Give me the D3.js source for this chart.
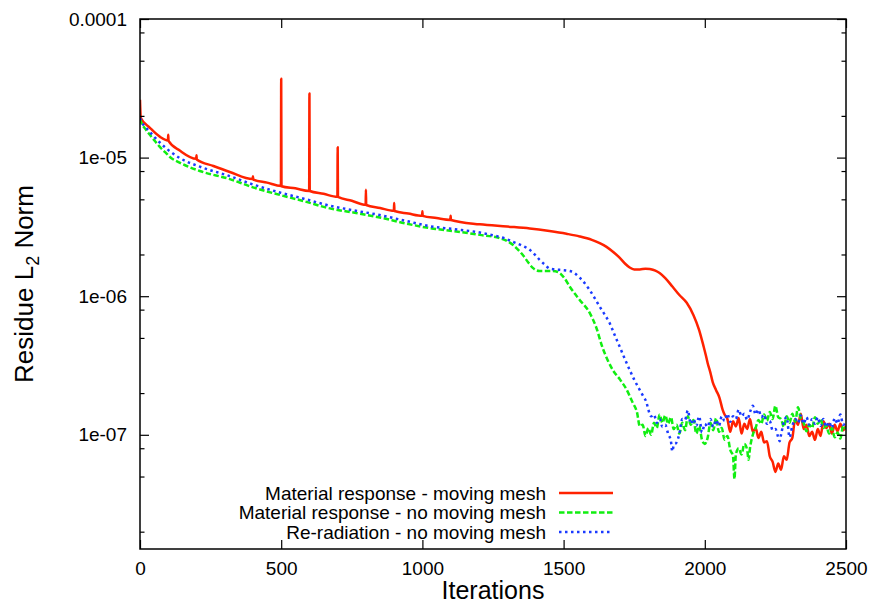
<!DOCTYPE html>
<html><head><meta charset="utf-8">
<script src="https://cdn.jsdelivr.net/npm/d3@7"></script>
<style>body{margin:0;background:#fff} text{font-family:"Liberation Sans",Arial,Helvetica,sans-serif}</style>
</head><body><svg id="c" width="872" height="606"></svg>
<script>
// ---- data ----
const xTicks = [0, 500, 1000, 1500, 2000, 2500];
const yMajorTicks = [1e-7, 1e-6, 1e-5, 1e-4];
const yTickLabels = ["1e-07", "1e-06", "1e-05", "0.0001"];
const yMinorTicks = [2e-8, 5e-8, 8e-8, 2e-7, 5e-7, 8e-7, 2e-6, 5e-6, 8e-6, 2e-5, 5e-5, 8e-5];
const seriesNames = ["Material response - moving mesh", "Material response - no moving mesh", "Re-radiation - no moving mesh"];
const xTitle = "Iterations";

const redData = [
[0,2.61e-5],[3,1.93e-5],[35,1.64e-5],[71,1.41e-5],[99,1.33e-5],[100,1.46e-5],[101,1.32e-5],[142,1.12e-5],
[199,9.8e-6],[200,1.04e-5],[201,9.7e-6],[260,8.7e-6],[318,7.88e-6],[399,7.0e-6],[400,7.35e-6],[401,6.95e-6],
[450,6.6e-6],[499,6.25e-6],[500,3.7e-5],[501,6.22e-6],[550,6.0e-6],[599,5.75e-6],[600,2.9e-5],[601,5.74e-6],
[650,5.48e-6],[699,5.21e-6],[700,1.19e-5],[701,5.2e-6],[750,4.88e-6],[799,4.56e-6],[800,5.85e-6],[801,4.55e-6],
[850,4.33e-6],[899,4.13e-6],[900,4.7e-6],[901,4.12e-6],[950,3.95e-6],[999,3.8e-6],[1000,4.1e-6],[1001,3.8e-6],
[1050,3.66e-6],[1099,3.55e-6],[1100,3.8e-6],[1101,3.55e-6],[1203,3.3e-6],[1300,3.18e-6],[1380,3.08e-6],
[1450,2.95e-6],[1510,2.82e-6],[1557,2.7e-6],[1600,2.55e-6],[1652,2.27e-6],[1680,2.05e-6],[1699,1.89e-6],
[1720,1.7e-6],[1734,1.61e-6],[1750,1.56e-6],[1770,1.56e-6],[1790,1.58e-6],[1805,1.57e-6],[1825,1.53e-6],
[1840,1.47e-6],[1860,1.35e-6],[1886,1.17e-6],[1910,1.02e-6],[1936,8.96e-7],[1960,7.3e-7],[1980,5.7e-7],
[1995,4.4e-7],[2003,3.8e-7],[2010,3.3e-7],[2020,2.8e-7],[2028,2.4e-7],[2040,2.1e-7],[2052,1.85e-7],
[2063,1.52e-7],[2070,1.4e-7],
[2080,1.30e-7],[2090,1.05e-7],[2100,1.25e-7],[2110,1.15e-7],[2120,1.32e-7],[2130,1.02e-7],[2140,1.20e-7],
[2150,1.10e-7],[2160,1.30e-7],[2170,1.05e-7],[2180,1.12e-7],[2190,0.95e-7],[2200,1.05e-7],[2210,0.88e-7],
[2220,0.90e-7],[2230,0.70e-7],[2240,0.64e-7],[2250,0.54e-7],[2260,0.62e-7],[2270,0.56e-7],[2280,0.70e-7],
[2290,0.66e-7],[2300,0.88e-7],[2310,0.95e-7],[2320,1.30e-7],[2330,1.18e-7],[2340,1.42e-7],[2350,1.10e-7],
[2360,1.18e-7],[2370,0.98e-7],[2380,1.05e-7],[2390,0.92e-7],[2400,1.10e-7],[2410,0.98e-7],[2420,1.25e-7],
[2430,1.12e-7],[2440,1.20e-7],[2450,1.02e-7],[2460,1.18e-7],[2470,1.06e-7],[2480,1.20e-7],[2490,1.08e-7],
[2500,1.16e-7]
];

const greenData = [
[0,1.9e-5],[5,1.78e-5],[20,1.6e-5],[35,1.46e-5],[55,1.3e-5],[71,1.19e-5],[90,1.09e-5],[106,1.01e-5],
[142,9.16e-6],[212,8.0e-6],[318,7.0e-6],[400,6.1e-6],[495,5.38e-6],[580,4.85e-6],[672,4.3e-6],[760,4.0e-6],
[849,3.7e-6],[940,3.35e-6],[1026,3.1e-6],[1110,2.95e-6],[1203,2.77e-6],[1274,2.62e-6],[1300,2.5e-6],
[1320,2.35e-6],[1340,2.15e-6],[1355,1.99e-6],[1375,1.75e-6],[1391,1.6e-6],[1415,1.52e-6],[1440,1.52e-6],
[1461,1.52e-6],[1486,1.47e-6],[1505,1.33e-6],[1522,1.17e-6],[1557,9.4e-7],[1592,7.6e-7],[1615,6.0e-7],
[1638,4.25e-7],[1655,3.5e-7],[1674,2.94e-7],[1700,2.5e-7],[1723,2.12e-7],[1745,1.7e-7],
[1760,1.45e-7],[1770,1.15e-7],[1780,1.18e-7],[1790,0.98e-7],[1800,1.12e-7],[1810,1.00e-7],[1820,1.22e-7],
[1830,1.12e-7],[1840,1.40e-7],[1850,1.22e-7],[1860,1.38e-7],[1870,1.20e-7],[1880,1.34e-7],[1890,1.10e-7],
[1900,1.18e-7],[1910,1.02e-7],[1920,1.22e-7],[1930,1.08e-7],[1940,1.36e-7],[1950,1.18e-7],[1960,1.28e-7],
[1970,1.02e-7],[1980,1.16e-7],[1990,0.92e-7],[2000,0.86e-7],[2010,0.95e-7],[2020,1.22e-7],[2030,1.08e-7],
[2040,1.32e-7],[2050,1.05e-7],[2060,1.12e-7],[2070,0.92e-7],[2080,0.98e-7],[2090,0.78e-7],[2100,0.70e-7],
[2105,0.48e-7],[2110,0.72e-7],[2120,0.80e-7],[2130,0.72e-7],[2140,0.86e-7],[2150,0.78e-7],[2155,0.66e-7],
[2160,0.80e-7],[2170,1.00e-7],[2180,1.12e-7],[2190,1.28e-7],[2200,1.20e-7],[2210,1.40e-7],[2220,1.26e-7],
[2230,1.46e-7],[2240,1.30e-7],[2250,1.62e-7],[2260,1.34e-7],[2270,1.30e-7],[2280,1.14e-7],[2290,1.36e-7],
[2300,1.22e-7],[2310,1.42e-7],[2320,1.24e-7],[2330,1.58e-7],[2340,1.30e-7],[2350,1.22e-7],[2360,1.06e-7],
[2370,1.18e-7],[2380,1.12e-7],[2390,1.34e-7],[2400,1.20e-7],[2410,1.30e-7],[2420,1.12e-7],[2430,1.16e-7],
[2440,1.02e-7],[2450,1.12e-7],[2460,0.96e-7],[2470,1.04e-7],[2480,0.94e-7],[2490,1.16e-7],[2500,1.10e-7]
];

const blueData = [
[0,1.93e-5],[5,1.82e-5],[20,1.66e-5],[35,1.53e-5],[55,1.38e-5],[71,1.28e-5],[90,1.18e-5],[106,1.11e-5],
[142,9.9e-6],[212,8.6e-6],[318,7.35e-6],[400,6.4e-6],[495,5.6e-6],[580,5.05e-6],[672,4.5e-6],[760,4.15e-6],
[849,3.85e-6],[940,3.5e-6],[1026,3.2e-6],[1110,3.05e-6],[1203,2.88e-6],[1249,2.75e-6],[1290,2.62e-6],
[1320,2.47e-6],[1350,2.33e-6],[1380,2.16e-6],[1400,1.98e-6],[1415,1.83e-6],[1435,1.68e-6],[1451,1.58e-6],
[1486,1.55e-6],[1522,1.52e-6],[1540,1.46e-6],[1557,1.36e-6],[1575,1.24e-6],[1592,1.11e-6],[1610,9.7e-7],
[1628,8.4e-7],[1645,7.4e-7],[1663,6.4e-7],[1680,5.3e-7],[1699,4.3e-7],[1715,3.6e-7],[1734,2.94e-7],
[1750,2.5e-7],[1769,2.12e-7],[1782,1.9e-7],[1794,1.7e-7],
[1800,1.52e-7],[1810,1.36e-7],[1820,1.40e-7],[1830,1.22e-7],[1840,1.30e-7],[1850,1.14e-7],[1860,1.18e-7],
[1870,1.02e-7],[1880,0.90e-7],[1885,0.76e-7],[1890,0.84e-7],[1900,0.88e-7],[1910,1.02e-7],[1920,1.30e-7],
[1930,1.28e-7],[1940,1.50e-7],[1950,1.20e-7],[1960,1.30e-7],[1970,1.16e-7],[1980,1.36e-7],[1990,1.04e-7],
[2000,1.20e-7],[2010,1.14e-7],[2020,1.30e-7],[2030,1.14e-7],[2040,1.28e-7],[2050,1.16e-7],[2060,1.36e-7],
[2070,1.26e-7],[2080,1.42e-7],[2090,1.24e-7],[2100,1.36e-7],[2110,1.30e-7],[2120,1.52e-7],[2130,1.36e-7],
[2140,1.42e-7],[2150,1.28e-7],[2160,1.46e-7],[2170,1.62e-7],[2180,1.40e-7],[2190,1.52e-7],[2200,1.34e-7],
[2210,1.40e-7],[2220,1.20e-7],[2230,1.26e-7],[2240,1.08e-7],[2250,1.10e-7],[2260,0.96e-7],[2265,0.90e-7],
[2270,1.00e-7],[2280,1.24e-7],[2290,1.34e-7],[2300,0.96e-7],[2310,1.16e-7],[2320,1.30e-7],[2330,1.22e-7],
[2340,1.38e-7],[2350,1.20e-7],[2360,1.34e-7],[2370,1.18e-7],[2380,1.30e-7],[2390,1.20e-7],[2400,1.34e-7],
[2410,1.16e-7],[2420,1.30e-7],[2430,1.14e-7],[2440,1.24e-7],[2450,1.12e-7],[2460,1.32e-7],[2470,1.20e-7],
[2480,1.40e-7],[2490,1.18e-7],[2500,1.26e-7]
];

// ---- drawing ----
const svg = d3.select("#c");
const M = {l:140, r:846, t:19, b:549};
const x = d3.scaleLinear().domain([0, 2500]).range([M.l, M.r]);
const y = d3.scaleLog().domain([1.5e-8, 1e-4]).range([M.b, M.t]);
const FS = 19;

svg.append("defs").append("clipPath").attr("id","clip")
  .append("rect").attr("x",M.l).attr("y",M.t).attr("width",M.r-M.l).attr("height",M.b-M.t);

const styles = [
  {data: redData,   color: "#ff2200", dash: null},
  {data: greenData, color: "#11ee11", dash: "5.5 2.5"},
  {data: blueData,  color: "#1a3aff", dash: "2.5 3.5"}
];

const line = d3.line().curve(d3.curveMonotoneX).x(d => x(d[0])).y(d => y(d[1]));
const plot = svg.append("g").attr("clip-path","url(#clip)");
styles.forEach(s => {
  plot.append("path").datum(s.data)
    .attr("d", line).attr("fill","none")
    .attr("stroke", s.color).attr("stroke-width", 2.5)
    .attr("stroke-linejoin","round")
    .attr("stroke-dasharray", s.dash);
});

function styleAxis(g){
  g.select(".domain").remove();
  g.selectAll(".tick line").attr("stroke","#000").attr("stroke-width",1.2);
  g.selectAll("text").attr("fill","#000").style("font-size", FS+"px")
   .style("font-family","'Liberation Sans',Arial,sans-serif");
}

// x axes
svg.append("g").attr("transform",`translate(0,${M.b})`)
  .call(d3.axisBottom(x).tickValues(xTicks).tickSize(-9).tickPadding(13).tickFormat(d3.format("d")))
  .call(styleAxis);
svg.append("g").attr("transform",`translate(0,${M.t})`)
  .call(d3.axisTop(x).tickValues(xTicks).tickSize(-9).tickFormat(""))
  .call(styleAxis);

// y axes
svg.append("g").attr("transform",`translate(${M.l},0)`)
  .call(d3.axisLeft(y).tickValues(yMajorTicks).tickSize(-9).tickPadding(13)
        .tickFormat((d,i) => yTickLabels[i]))
  .call(styleAxis);
svg.append("g").attr("transform",`translate(${M.l},0)`)
  .call(d3.axisLeft(y).tickValues(yMinorTicks).tickSize(-4.5).tickFormat(""))
  .call(styleAxis);
svg.append("g").attr("transform",`translate(${M.r},0)`)
  .call(d3.axisRight(y).tickValues(yMajorTicks).tickSize(-9).tickFormat(""))
  .call(styleAxis);
svg.append("g").attr("transform",`translate(${M.r},0)`)
  .call(d3.axisRight(y).tickValues(yMinorTicks).tickSize(-4.5).tickFormat(""))
  .call(styleAxis);

// frame
svg.append("rect").attr("x",M.l).attr("y",M.t).attr("width",M.r-M.l).attr("height",M.b-M.t)
  .attr("fill","none").attr("stroke","#000").attr("stroke-width",1.5);

// titles
svg.append("text").attr("x", 493).attr("y", 599).attr("text-anchor","middle")
  .style("font-size","25px").text(xTitle);

const yt = svg.append("text").attr("transform","translate(33,284) rotate(-90)")
  .attr("text-anchor","middle").style("font-size","26px");
yt.append("tspan").text("Residue L");
yt.append("tspan").attr("dy", 6).style("font-size","18px").text("2");
yt.append("tspan").attr("dy", -6).text(" Norm");

// legend
const lg = svg.append("g");
styles.forEach((s, i) => {
  const yy = 493 + i*19.5;
  lg.append("text").attr("x", 546).attr("y", yy + 6.5).attr("text-anchor","end")
    .style("font-size", FS+"px").text(seriesNames[i]);
  lg.append("line").attr("x1",559).attr("x2",613).attr("y1",yy).attr("y2",yy)
    .attr("stroke", s.color).attr("stroke-width", 2.5).attr("stroke-dasharray", s.dash);
});
</script>
</body></html>
